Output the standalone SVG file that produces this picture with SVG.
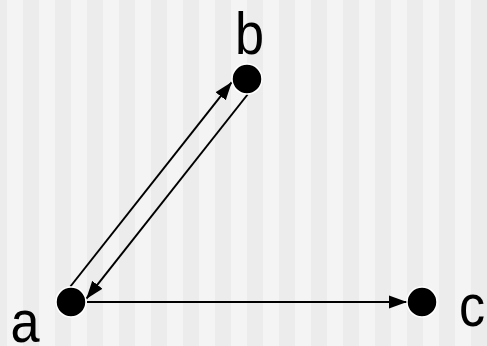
<svg xmlns="http://www.w3.org/2000/svg" width="487" height="346" viewBox="0 0 487 346">
<style>
.node{fill:#000;stroke:#fff;stroke-width:1.5}
.edge{stroke:#000;stroke-width:2;fill:none}
.lbl{font-family:"Liberation Sans",Arial,sans-serif;font-size:60px;fill:#000;text-anchor:middle}
</style>
<defs>
<pattern id="stripes" x="7" y="0" width="32" height="346" patternUnits="userSpaceOnUse">
<rect x="0" y="0" width="16" height="346" fill="#f4f4f4"/>
<rect x="16" y="0" width="16" height="346" fill="#ececec"/>
</pattern>
<marker id="arrow" markerUnits="userSpaceOnUse" markerWidth="18" markerHeight="14" refX="18" refY="7" orient="auto">
<path d="M0,0.5 L18,7 L0,13.5 z" fill="#000"/>
</marker>
</defs>
<rect x="0" y="0" width="487" height="346" fill="url(#stripes)"/>
<g id="connectors">
<line class="edge" x1="70.4" y1="286.5" x2="231.8" y2="82.1" marker-end="url(#arrow)"/>
<line class="edge" x1="247.6" y1="94.5" x2="86.2" y2="298.9" marker-end="url(#arrow)"/>
<line class="edge" x1="87" y1="302" x2="407" y2="302" marker-end="url(#arrow)"/>
</g>
<g id="node-a">
<circle class="node" cx="71" cy="302" r="15"/>
<text class="lbl" transform="translate(25,341.5) scale(0.87,1)">a</text>
</g>
<g id="node-b">
<circle class="node" cx="247" cy="79" r="15"/>
<text class="lbl" transform="translate(249.5,54) scale(0.87,1)">b</text>
</g>
<g id="node-c">
<circle class="node" cx="422" cy="302" r="15"/>
<text class="lbl" transform="translate(472,326) scale(0.87,1)">c</text>
</g>
</svg>
